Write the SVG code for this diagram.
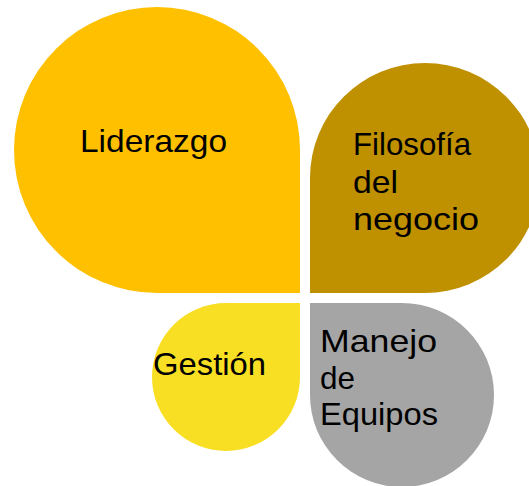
<svg xmlns="http://www.w3.org/2000/svg" width="529" height="486" viewBox="0 0 529 486">
<style>
text{font-family:"Liberation Sans","DejaVu Sans",sans-serif;font-size:32px;fill:#000}
</style>
<rect width="529" height="486" fill="#fff"/>
<g id="liderazgo">
<path d="M300 293 L157 293 A143 143 0 0 1 14 150 A143 143 0 0 1 157 7 A143 143 0 0 1 300 150 Z" fill="#FFC000"/>
<text x="80" y="152" textLength="147" lengthAdjust="spacingAndGlyphs">Liderazgo</text>
</g>
<g id="filosofia">
<path d="M310 293 L310 178 A115 115 0 0 1 425 63 A115 115 0 0 1 540 178 A115 115 0 0 1 425 293 Z" fill="#BF9000"/>
<text x="353" y="155" textLength="118" lengthAdjust="spacingAndGlyphs">Filosofía</text>
<text x="353" y="192.5" textLength="45" lengthAdjust="spacingAndGlyphs">del</text>
<text x="353" y="230" textLength="126" lengthAdjust="spacingAndGlyphs">negocio</text>
</g>
<g id="gestion">
<path d="M300 303 L300 377 A74 74 0 0 1 226 451 A74 74 0 0 1 152 377 A74 74 0 0 1 226 303 Z" fill="#F9DF23"/>
<text x="153" y="375" textLength="113" lengthAdjust="spacingAndGlyphs">Gestión</text>
</g>
<g id="manejo">
<path d="M310 303 L402 303 A92 92 0 0 1 494 395 A92 92 0 0 1 402 487 A92 92 0 0 1 310 395 Z" fill="#A5A5A5"/>
<text x="320" y="352" textLength="117" lengthAdjust="spacingAndGlyphs">Manejo</text>
<text x="320" y="388.5" textLength="35" lengthAdjust="spacingAndGlyphs">de</text>
<text x="320" y="425" textLength="118" lengthAdjust="spacingAndGlyphs">Equipos</text>
</g>
<g id="connectors"/>
</svg>
